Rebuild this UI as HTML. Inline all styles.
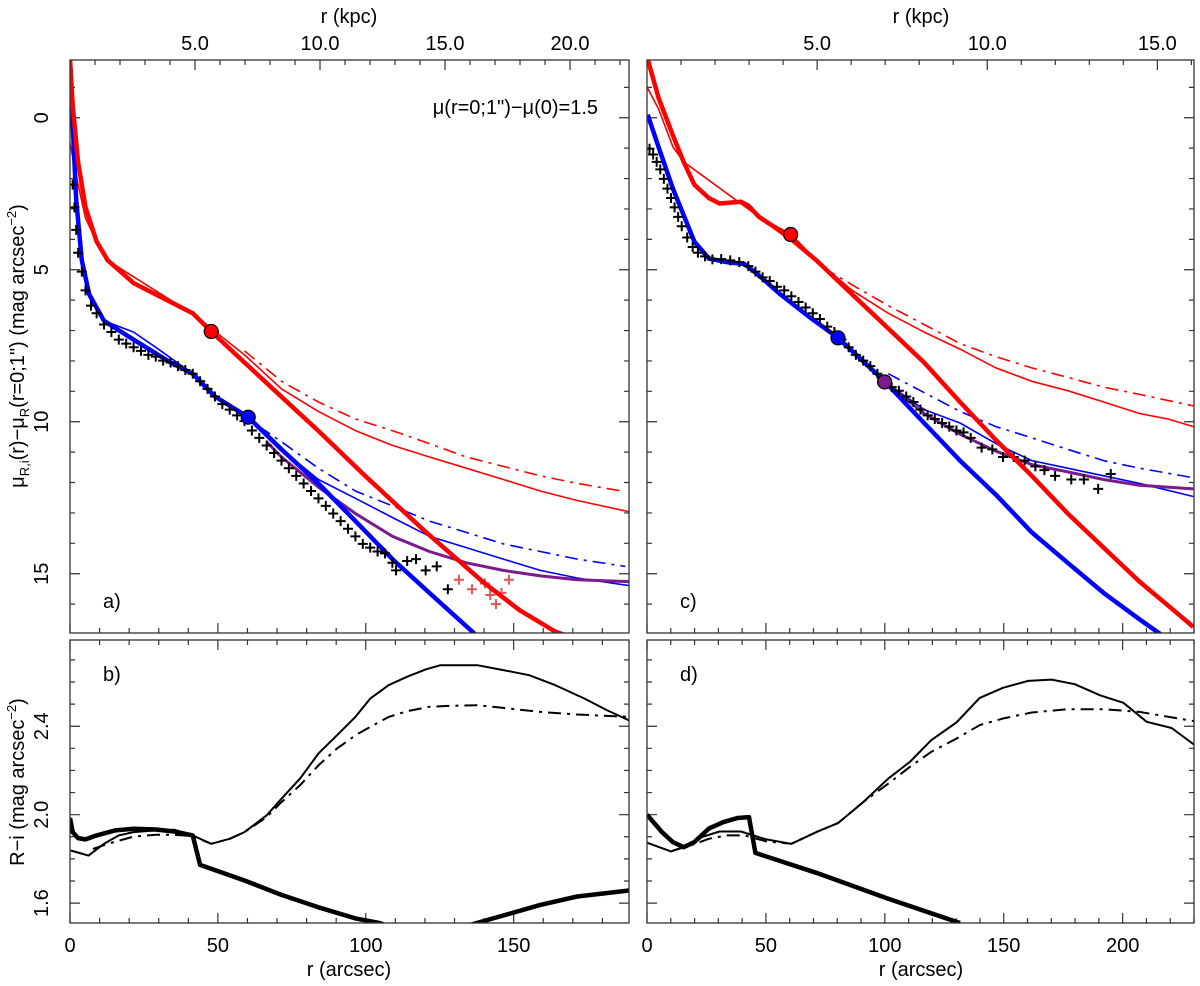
<!DOCTYPE html>
<html><head><meta charset="utf-8">
<style>
html,body{margin:0;padding:0;background:#fff;}
svg{display:block;font-family:"Liberation Sans",Arial,sans-serif;}
</style></head>
<body>
<svg id="fig" width="1200" height="986" viewBox="0 0 1200 986" xmlns="http://www.w3.org/2000/svg">
<defs>
<clipPath id="clipA"><rect x="70" y="60" width="559" height="573"/></clipPath>
<clipPath id="clipB"><rect x="70" y="640" width="559" height="283"/></clipPath>
<clipPath id="clipC"><rect x="647" y="60" width="547" height="573"/></clipPath>
<clipPath id="clipD"><rect x="647" y="640" width="547" height="283"/></clipPath>
</defs>
<g id="layer"></g>
</svg>
<script>
// ---------- Panel a data (r arcsec, mag) ----------
const aRedThickR=[0,0.9,2.75,5.25,9,12.75,21.5,34,41.5,47.75,59,71.5,84,100,120,140,152,164,175];
const aRedThickM=[-1.93,-0.41,1.46,2.95,4.07,4.69,5.44,6.06,6.43,7.03,8.05,9.18,10.3,11.8,13.6,15.3,16.2,16.9,17.3];
const aRedThinR=[0,2.75,5.25,9,12.75,22.75,34,41.5,47.75,59,71.5,84,96.5,109,121.5,134,146.5,159,171.5,189];
const aRedThinM=[0.83,2.2,3.3,4.07,4.69,5.31,6.0,6.43,6.93,7.8,8.92,9.66,10.29,10.78,11.16,11.53,11.9,12.28,12.59,12.96];
const aRedDashR=[59,71.5,84,96.5,109,121.5,134,146.5,159,171.5,186.5];
const aRedDashM=[7.67,8.67,9.35,9.91,10.29,10.72,11.16,11.47,11.78,12.03,12.28];
const aBlueThickR=[0,0.9,2.1,4,6.5,11.5,21.5,34,41.5,49,60.25,71.5,84,96.5,109,121.5,137.1];
const aBlueThickM=[-1.9,0.21,2.7,4.69,5.81,6.68,7.3,8.05,8.42,9.17,9.85,10.91,12.03,13.27,14.52,15.63,17.0];
const aBlueThinR=[11.5,21.5,29,41.5,49,60.25,71.5,84,96.5,109,121.5,134,146.5,159,171.5,189];
const aBlueThinM=[6.68,7.05,7.55,8.42,9.17,9.85,10.91,11.9,12.52,13.15,13.77,14.14,14.52,14.89,15.14,15.39];
const aBlueDashR=[64,71.5,84,96.5,109,121.5,134,146.5,159,171.5,187.75];
const aBlueDashM=[10.16,10.66,11.53,12.28,12.77,13.27,13.64,14.02,14.27,14.52,14.76];
const aPurpleR=[66.5,71.5,84,96.5,109,121.5,134,146.5,159,171.5,189];
const aPurpleM=[10.66,11.16,12.15,13.02,13.77,14.27,14.64,14.89,15.07,15.2,15.26];
const aCrossR=[0.9,1.5,2.1,2.75,4,5.25,7.1,9,11.5,14,16.5,19,21.5,24,26.5,29,31.5,34,36.5,39,41.5,44,46.5,49,51.5,54,56.5,59,61.5,64,66.5,69,71.5,74,76.5,79,81.5,84,86.5,89,91.5,94,96.5,99,101.5,104,106.5,109,110.25,114,117,120.25,124,127.75];
const aCrossM=[2.2,2.95,3.69,4.44,5.06,5.68,6.18,6.43,6.8,7.05,7.3,7.43,7.55,7.67,7.8,7.86,7.99,8.05,8.17,8.3,8.42,8.67,8.92,9.17,9.42,9.6,9.79,9.98,10.29,10.53,10.78,11.03,11.28,11.53,11.78,12.03,12.28,12.52,12.77,13.02,13.27,13.52,13.77,14.02,14.14,14.27,14.33,14.64,14.89,14.58,14.52,14.89,14.76,15.51];
const aRedCrossR=[131.5,135.9,140.25,142.1,144,145.9,148.4];
const aRedCrossM=[15.2,15.51,15.32,15.7,16.0,15.63,15.2];
const aDotRed=[47.75,7.03];
const aDotBlue=[60.25,9.85];
// ---------- Panel c data ----------
const cRedThickR=[0.3,4.83,10.9,15.4,19.9,26,30.5,39.5,42.6,47.1,53.1,60.7,71.2,86.3,101.4,116.5,131.6,146.7,161.8,176.9,192,207.1,222.2,229.7];
const cRedThickM=[-1.93,-0.66,0.58,1.45,2.2,2.64,2.82,2.76,2.89,3.26,3.57,4.0,4.69,5.81,6.93,8.05,9.35,10.6,11.78,13.02,14.14,15.26,16.25,16.75];
const cRedThinR=[0.3,4.83,10.9,15.4,47.1,60.7,71.2,86.3,101.4,116.5,131.6,146.7,161.8,176.9,192,207.1,219.1,229.7];
const cRedThinM=[-0.97,-0.29,0.96,1.45,3.26,3.84,4.69,5.68,6.43,7.05,7.61,8.23,8.67,8.98,9.35,9.73,9.91,10.16];
const cRedDashR=[74.3,86.3,101.4,116.5,131.6,146.7,161.8,176.9,192,207.1,229.7];
const cRedDashM=[4.94,5.5,6.18,6.8,7.43,7.86,8.23,8.54,8.86,9.1,9.48];
const cBlueThickR=[0.3,4.83,10.9,15.4,19.9,26,33.5,41,47.1,56.1,68.2,80.3,99.9,116.5,131.6,146.7,161.8,176.9,192,207.1,216.1];
const cBlueThickM=[-0.1,0.96,2.33,3.2,4.07,4.63,4.75,4.81,5.19,5.81,6.55,7.24,8.67,10.04,11.28,12.4,13.64,14.64,15.63,16.5,17.0];
const cBlueThinR=[99.9,116.5,131.6,146.7,161.8,176.9,192,207.1,229.7];
const cBlueThinM=[8.67,9.6,10.04,10.72,11.28,11.53,11.78,12.03,12.46];
const cBlueDashR=[101.4,116.5,131.6,146.7,161.8,176.9,192,207.1,229.7];
const cBlueDashM=[8.42,9.04,9.66,10.16,10.53,10.91,11.28,11.53,11.84];
const cPurpleR=[99.9,116.5,131.6,146.7,161.8,176.9,192,207.1,229.7];
const cPurpleM=[8.67,9.73,10.41,10.97,11.41,11.65,11.9,12.09,12.21];
const cCrossR=[1.06,2.57,4.07,5.58,7.09,8.6,10.1,11.6,13.1,14.6,16.9,19.2,21.4,24.4,27.5,31.2,35,38.8,42.6,45.6,48.6,51.6,54.6,57.7,60.7,63.7,66.7,69.7,72.7,75.8,78.8,81.8,84.8,87.8,90.9,93.9,96.9,99.9,102.9,105.9,109,112,115,118,121,124.1,127.1,130.1,133.1,136.1,140.7,145.2,149.7,154.2,158.8,163.3,167.1,171.6,178.4,183.7,189.7,195];
const cCrossM=[1.02,1.21,1.45,1.7,2.01,2.33,2.64,2.95,3.26,3.57,3.94,4.25,4.44,4.56,4.66,4.65,4.69,4.75,4.88,5.06,5.25,5.37,5.56,5.68,5.87,6.06,6.24,6.43,6.62,6.87,7.05,7.3,7.55,7.8,7.99,8.17,8.42,8.67,8.86,8.98,9.17,9.35,9.6,9.79,9.91,10.04,10.16,10.29,10.35,10.53,10.85,10.91,11.16,11.16,11.28,11.47,11.59,11.78,11.9,11.9,12.21,11.72];
const cDotRed=[60.4,3.84];
const cDotBlue=[80.3,7.24];
const cDotPurple=[99.9,8.69];
// ---------- Panel b data (R-i) ----------
const bThinR=[0.25,6.25,11.5,16.5,21.5,29,35.25,41.5,47.75,54,59,66.5,71.5,77.75,84,90.25,96.5,101.5,107.75,114,120.25,125.25,137.75,146.5,155.25,164,174,181.5,189];
const bThinV=[1.838,1.815,1.868,1.906,1.921,1.929,1.932,1.906,1.868,1.891,1.921,1.997,2.072,2.163,2.276,2.359,2.442,2.525,2.586,2.624,2.657,2.676,2.676,2.654,2.631,2.586,2.525,2.473,2.427];
const bDashR=[7.75,12.75,21.5,29,35.25,41.5,47.75,54,59,66.5,71.5,77.75,84,90.25,96.5,101.5,107.75,114,121.5,127.75,137.75,146.5,159,171.5,189];
const bDashV=[1.845,1.868,1.901,1.909,1.909,1.903,1.868,1.891,1.921,1.989,2.057,2.133,2.223,2.299,2.359,2.397,2.442,2.468,2.488,2.492,2.495,2.483,2.465,2.453,2.442];
const bThickR=[0,0.9,2.75,5.25,9,15.25,21.5,29,35.25,41.5,44,59,71.5,84,96.5,104.6,112,121,130,137.5,146.5,159,171.5,189];
const bThickV=[1.985,1.921,1.894,1.888,1.906,1.929,1.936,1.933,1.924,1.906,1.773,1.702,1.637,1.581,1.531,1.51,1.475,1.46,1.48,1.51,1.544,1.592,1.63,1.657];
// ---------- Panel d data ----------
const dThinR=[0,10.1,16.9,22.9,30.5,39.5,50.1,60.7,71.2,80.3,90.9,101.4,110.5,119.5,130.1,139.9,149.7,160.3,170.1,179.9,190.5,200.3,210.1,220.6,230];
const dThinV=[1.873,1.834,1.858,1.898,1.924,1.924,1.888,1.868,1.921,1.962,2.057,2.163,2.238,2.337,2.417,2.528,2.574,2.605,2.611,2.59,2.54,2.506,2.42,2.392,2.317];
const dDashR=[10.9,18.4,26,33.5,41,50.1,60.7,71.2,80.3,90.9,101.4,110.5,119.5,130.1,139.9,149.7,161.8,176.9,192,207.1,230];
const dDashV=[1.838,1.861,1.891,1.906,1.906,1.879,1.868,1.921,1.962,2.057,2.14,2.216,2.284,2.344,2.405,2.435,2.462,2.477,2.477,2.465,2.423];
const dThickR=[0,6.3,10.9,15.4,19.9,26,32,38,42.9,45.6,71.2,101.4,131.6];
const dThickV=[2.0,1.921,1.876,1.853,1.876,1.937,1.966,1.985,1.989,1.827,1.737,1.62,1.51];
// ---------- tick labels ----------
const muTickLabels=["0","5","10","15"];
const riTickLabels=["1.6","2.0","2.4"];
const arcLeftLabels=["0","50","100","150"];
const arcRightLabels=["0","50","100","150","200"];
const kpcLeftLabels=["5.0","10.0","15.0","20.0"];
const kpcRightLabels=["5.0","10.0","15.0"];

const NS="http://www.w3.org/2000/svg";
const layer=document.getElementById('layer');
function mk(tag,attrs,parent){const e=document.createElementNS(NS,tag);for(const k in attrs)e.setAttribute(k,attrs[k]);(parent||layer).appendChild(e);return e;}

function panel(x0,x1,y0,y1,xmax,ymin,ymax){
  return {x0,x1,y0,y1,sx:v=>x0+(v/xmax)*(x1-x0),sy:v=>y0+((v-ymin)/(ymax-ymin))*(y1-y0)};
}
const PA=panel(70,629,60,633,189,-1.9,16.95);
const PC=panel(647,1194,60,633,230,-1.9,16.95);
const PB=panel(70,629,640,923,189,2.79,1.51);
const PD=panel(647,1194,640,923,230,2.79,1.51);

function line(P,rs,vs,color,w,name,clip,dash){
  let d='';for(let i=0;i<rs.length;i++){d+=(i?'L':'M')+P.sx(rs[i]).toFixed(1)+' '+P.sy(vs[i]).toFixed(1);}
  const attrs={d:d,fill:'none',stroke:color,'stroke-width':w,'stroke-linejoin':'round','clip-path':'url(#'+clip+')'};
  if(dash)attrs['stroke-dasharray']=dash;
  const e=mk('path',attrs);
  
  
}
function crosses(P,rs,vs,color,name,clip){
  const g=mk('g',{stroke:color,'stroke-width':2,'clip-path':'url(#'+clip+')'});
  
  
  for(let i=0;i<rs.length;i++){const x=P.sx(rs[i]),y=P.sy(vs[i]);
    mk('path',{d:`M${x-5} ${y}H${x+5}M${x} ${y-5}V${y+5}`},g);}
}
function dot(P,pt,color,name){
  const e=mk('circle',{cx:P.sx(pt[0]),cy:P.sy(pt[1]),r:7,fill:color,stroke:'#000','stroke-width':1.2});
  
  
}
function frame(P,name){
  const e=mk('rect',{x:P.x0,y:P.y0,width:P.x1-P.x0,height:P.y1-P.y0,fill:'none',stroke:'#333','stroke-width':1.3});
  
  
}
function xticks(P,xmax,minor,major,top,bottom){
  let d='';
  for(let v=0;v<=xmax+1e-6;v+=minor){const x=P.sx(v);const L=(Math.abs(v/major-Math.round(v/major))<1e-6)?10:5;
    if(bottom)d+=`M${x} ${P.y1}V${P.y1-L}`; if(top)d+=`M${x} ${P.y0}V${P.y0+L}`;}
  mk('path',{d:d,stroke:'#333','stroke-width':1.2,fill:'none'});
}
function yticks(P,vmin,vmax,minor,major){
  let d='';const n=Math.round((vmax-vmin)/minor);
  for(let i=0;i<=n;i++){const v=vmin+i*minor;const y=P.sy(v);if(y<P.y0-0.5||y>P.y1+0.5)continue;
    const L=(Math.abs(v/major-Math.round(v/major))<1e-6)?10:5;
    d+=`M${P.x0} ${y}H${P.x0+L}M${P.x1} ${y}H${P.x1-L}`;}
  mk('path',{d:d,stroke:'#333','stroke-width':1.2,fill:'none'});
}
function kpcTicks(P,kpcPerArc,kmax){
  let d='';
  for(let k=1;k<=kmax;k++){const x=P.sx(k/kpcPerArc);const L=(k%5===0)?10:5;d+=`M${x} ${P.y0}V${P.y0+L}`;}
  mk('path',{d:d,stroke:'#333','stroke-width':1.2,fill:'none'});
}
function text(x,y,s,name,opts){
  const e=mk('text',Object.assign({x:x,y:y,'font-size':20,'text-anchor':'middle',fill:'#000'},opts||{}));
  e.textContent=s;
  
  
  return e;
}

[PA,PB].forEach(P=>xticks(P,189,10,50,false,true));
[PC,PD].forEach(P=>xticks(P,230,10,50,false,true));
xticks(PB,189,10,50,true,false);xticks(PD,230,10,50,true,false);
const kpcA=0.1183, kpcC=0.0699;
yticks(PA,-1,17,1,5);yticks(PC,-1,17,1,5);
yticks(PB,1.5,2.8,0.1,0.4);yticks(PD,1.5,2.8,0.1,0.4);
kpcTicks(PA,kpcA,22);kpcTicks(PC,kpcC,16);

// panel a
line(PA,aRedThinR,aRedThinM,'#f00',1.6,'a-red-thin-line','clipA');
line(PA,aRedDashR,aRedDashM,'#f00',1.6,'a-red-dashdot-line','clipA','13,6,3,6');
line(PA,aBlueThinR,aBlueThinM,'#00f',1.6,'a-blue-thin-line','clipA');
line(PA,aBlueDashR,aBlueDashM,'#00f',1.6,'a-blue-dashdot-line','clipA','13,6,3,6');
line(PA,aPurpleR,aPurpleM,'#7a1a8c',3,'a-purple-line','clipA');
line(PA,aBlueThickR,aBlueThickM,'#00f',4.5,'a-blue-thick-line','clipA');
crosses(PA,aCrossR,aCrossM,'#000','a-data-crosses','clipA');
crosses(PA,aRedCrossR,aRedCrossM,'#e05555','a-red-crosses','clipA');
line(PA,aRedThickR,aRedThickM,'#f00',4.5,'a-red-thick-line','clipA');
dot(PA,aDotRed,'#f00','a-red-marker');dot(PA,aDotBlue,'#00f','a-blue-marker');

// panel c
line(PC,cRedThinR,cRedThinM,'#f00',1.6,'c-red-thin-line','clipC');
line(PC,cRedDashR,cRedDashM,'#f00',1.6,'c-red-dashdot-line','clipC','13,6,3,6');
line(PC,cBlueThinR,cBlueThinM,'#00f',1.6,'c-blue-thin-line','clipC');
line(PC,cBlueDashR,cBlueDashM,'#00f',1.6,'c-blue-dashdot-line','clipC','13,6,3,6');
line(PC,cPurpleR,cPurpleM,'#7a1a8c',3,'c-purple-line','clipC');
line(PC,cBlueThickR,cBlueThickM,'#00f',4.5,'c-blue-thick-line','clipC');
crosses(PC,cCrossR,cCrossM,'#000','c-data-crosses','clipC');
line(PC,cRedThickR,cRedThickM,'#f00',4.5,'c-red-thick-line','clipC');
dot(PC,cDotRed,'#f00','c-red-marker');dot(PC,cDotBlue,'#00f','c-blue-marker');dot(PC,cDotPurple,'#7a1a8c','c-purple-marker');

// panel b, d
line(PB,bThinR,bThinV,'#000',2,'b-thin-line','clipB');
line(PB,bDashR,bDashV,'#000',2,'b-dashdot-line','clipB','13,6,3,6');
line(PB,bThickR,bThickV,'#000',4.5,'b-thick-line','clipB');
line(PD,dThinR,dThinV,'#000',2,'d-thin-line','clipD');
line(PD,dDashR,dDashV,'#000',2,'d-dashdot-line','clipD','13,6,3,6');
line(PD,dThickR,dThickV,'#000',4.5,'d-thick-line','clipD');

frame(PA,'panel-a-frame');frame(PB,'panel-b-frame');frame(PC,'panel-c-frame');frame(PD,'panel-d-frame');

[0,5,10,15].forEach((v,i)=>{const y=PA.sy(v);text(0,0,muTickLabels[i],'mu-tick-label',{transform:`translate(48 ${y}) rotate(-90)`});});
[1.6,2.0,2.4].forEach((v,i)=>{const y=PB.sy(v);text(0,0,riTickLabels[i],'ri-tick-label',{transform:`translate(48 ${y}) rotate(-90)`});});
[0,50,100,150].forEach((v,i)=>text(PB.sx(v),952,arcLeftLabels[i],'x-tick-label-left'));
[0,50,100,150,200].forEach((v,i)=>text(PD.sx(v),952,arcRightLabels[i],'x-tick-label-right'));
[5,10,15,20].forEach((k,i)=>text(PA.sx(k/kpcA),50,kpcLeftLabels[i],'kpc-tick-label-left'));
[5,10,15].forEach((k,i)=>text(PC.sx(k/kpcC),50,kpcRightLabels[i],'kpc-tick-label-right'));

text(349,976,'r (arcsec)','x-axis-title-left');
text(921,976,'r (arcsec)','x-axis-title-right');
text(349,23,'r (kpc)','top-axis-title-left');
text(921,23,'r (kpc)','top-axis-title-right');
const yt=text(0,0,'','y-axis-title-mu',{transform:'translate(24 346) rotate(-90)'});
yt.innerHTML='μ<tspan font-size="13" dy="5">R,i</tspan><tspan dy="-5">(r)−μ</tspan><tspan font-size="13" dy="5">R</tspan><tspan dy="-5">(r=0;1") (mag arcsec</tspan><tspan font-size="13" dy="-8">−2</tspan><tspan dy="8">)</tspan>';
const yt2=text(0,0,'','y-axis-title-ri',{transform:'translate(24 782) rotate(-90)'});
yt2.innerHTML='R−i (mag arcsec<tspan font-size="13" dy="-8">−2</tspan><tspan dy="8">)</tspan>';
text(598,114,'μ(r=0;1")−μ(0)=1.5','annotation-offset',{'text-anchor':'end'});
text(103,608,'a)','panel-label-a',{'text-anchor':'start'});
text(103,681,'b)','panel-label-b',{'text-anchor':'start'});
text(680,608,'c)','panel-label-c',{'text-anchor':'start'});
text(680,681,'d)','panel-label-d',{'text-anchor':'start'});
</script>
</body></html>
